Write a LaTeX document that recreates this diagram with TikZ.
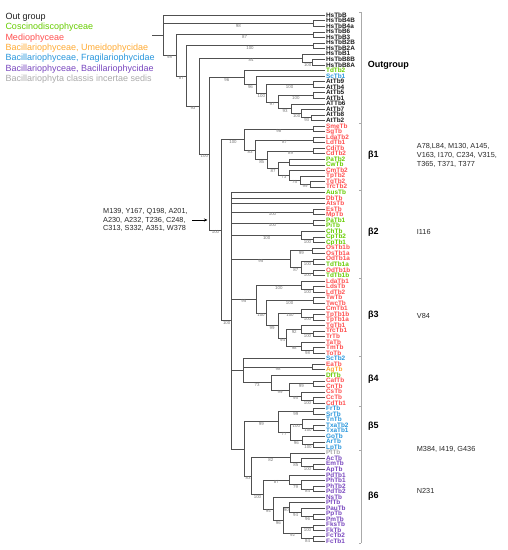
\documentclass[tikz,border=0pt]{standalone}
\usepackage{fontspec}
\setmainfont{Liberation Sans}
\usetikzlibrary{calc,arrows.meta}
\definecolor{cK}{RGB}{30,30,30}
\definecolor{cG}{RGB}{102,204,0}
\definecolor{cR}{RGB}{255,80,80}
\definecolor{cO}{RGB}{255,170,51}
\definecolor{cB}{RGB}{40,150,220}
\definecolor{cP}{RGB}{120,70,190}
\definecolor{cY}{RGB}{170,170,170}
\definecolor{treec}{RGB}{80,80,80}
\definecolor{supc}{RGB}{120,120,120}
\definecolor{annc}{RGB}{40,40,40}
\newcommand\nd[4]{\path let \p1=($(#3)!0.5!(#4)$) in coordinate (#1) at (#2pt,\y1);}
\newcommand\br[3]{\draw[branch] (#1) |- (#2);\if\relax\detokenize{#3}\relax\else\node[sup] at ($(#1|-#2)!0.5!(#2)$) {#3};\fi}
\newcommand\pr[3]{\draw[branch] (#1) |- (#2);\draw[branch] (#1) |- (#3);}
\begin{document}
\begin{tikzpicture}[x=1pt,y=-1pt,
  branch/.style={draw=treec,line width=0.75pt},
  sup/.style={anchor=north,inner sep=0.4pt,text=supc,font=\fontsize{4.4}{5}\selectfont},
  leaf/.style={anchor=west,inner xsep=0.9pt,inner ysep=0pt,text height=4.4pt,text depth=0.6pt,font=\fontsize{6.4}{7}\selectfont\bfseries},
  leg/.style={anchor=west,inner sep=0pt,font=\fontsize{9}{10}\selectfont},
  grp/.style={anchor=west,inner sep=0pt,font=\fontsize{9}{10}\selectfont\bfseries},
  ann/.style={anchor=west,inner sep=0pt,align=left,text=annc,font=\fontsize{7.3}{8.8}\selectfont},
  arr/.style={-{Stealth[length=3.5pt,width=3pt]},line width=0.8pt,draw=black}]
\useasboundingbox (0,0) rectangle (508,550);
% legend
\node[leg,text=cK] (lg1) at (5.3,17) {Out group};
\node[leg,text=cG] (lg2) at (5.3,27.4) {Coscinodiscophyceae};
\node[leg,text=cR] (lg3) at (5.3,37.8) {Mediophyceae};
\node[leg,text=cO] (lg4) at (5.3,48.2) {Bacillariophyceae, Umeidophycidae};
\node[leg,text=cB] (lg5) at (5.3,58.6) {Bacillariophyceae, Fragilariophycidae};
\node[leg,text=cP] (lg6) at (5.3,69) {Bacillariophyceae, Bacillariophycidae};
\node[leg,text=cY] (lg7) at (5.3,79.4) {Bacillariophyta classis incertae sedis};
% leaves
\foreach \i/\t/\c in {1/HsTbB/cK,2/HsTbB4B/cK,3/HsTbB4a/cK,4/HsTbB6/cK,5/HsTbB3/cK,6/HsTbB2B/cK,7/HsTbB2A/cK,8/HsTbB1/cK,9/HsTbB8B/cK,10/HsTbB8A/cK,
11/TdTb2/cG,12/ScTb1/cB,13/AtTb9/cK,14/AtTb4/cK,15/AtTb5/cK,16/AtTb1/cK,17/ATTb6/cK,18/AtTb7/cK,19/AtTb8/cK,20/AtTb2/cK,
21/SmeTb/cR,22/SgTb/cR,23/LdaTb2/cR,24/LdTb1/cR,25/CdiTb/cR,26/CdTb2/cR,27/PaTb2/cG,28/CwTb/cG,29/CmTb2/cR,30/TpTb2/cR,
31/TgTb2/cR,32/TrcTb2/cR,33/AusTb/cG,34/DbTb/cR,35/AtsTb/cR,36/EsTb/cR,37/MpTb/cR,38/PaTb1/cG,39/PiTb/cG,40/ChTb/cG,
41/CpTb2/cG,42/CpTb1/cG,43/OsTb1b/cR,44/OsTb1a/cR,45/OdTb1a/cR,46/TdTb1a/cG,47/OdTb1b/cR,48/TdTb1b/cG,49/LdaTb1/cR,50/LdsTb/cR,
51/LdTb2/cR,52/TwTb/cR,53/TwcTb/cR,54/CmTb1/cR,55/TpTb1b/cR,56/TpTb1a/cR,57/TgTb1/cR,58/TrcTb1/cR,59/TrTb/cR,60/TaTb/cR,
61/TmTb/cR,62/ToTb/cR,63/ScTb2/cB,64/EaTb/cR,65/AgTb/cO,66/DfTb/cG,67/CafTb/cR,68/CnTb/cR,69/CsTb/cR,70/CcTb/cR,
71/CdTb1/cR,72/FrTb/cB,73/SrTb/cB,74/TnTb/cB,75/TxaTb2/cB,76/TxaTb1/cB,77/GoTb/cB,78/ArTb/cB,79/LpTb/cB,80/PtTb/cY,
81/AcTb/cP,82/EmTb/cP,83/ApTb/cP,84/PdTb1/cP,85/PhTb1/cP,86/PhTb2/cP,87/PdTb2/cP,88/NsTb/cP,89/PfTb/cP,90/PauTb/cP,
91/PpTb/cP,92/PmTb/cP,93/FksTb/cP,94/FkTb/cP,95/FcTb2/cP,96/FcTb1/cP}{
  \coordinate (t\i) at (325,{15.3+(\i-1)*5.54});
  \node[leaf,text=\c] (L\i) at (t\i) {\t};
}
% internal nodes: outgroup
\nd{p2}{313.3}{t2}{t3}
\nd{p4}{313.3}{t4}{t5}
\nd{p6}{313.3}{t6}{t7}
\nd{p9}{312.7}{t9}{t10}
\nd{n8}{302.7}{t8}{p9}
\nd{p13}{313.3}{t13}{t14}
\nd{p15}{313.3}{t15}{t16}
\nd{p19}{311.7}{t19}{t20}
\nd{n18}{301.7}{t18}{p19}
\nd{n17}{291.7}{t17}{n18}
\nd{n278}{278.3}{p15}{n17}
\nd{n266}{266}{p13}{n278}
\nd{n256}{256.7}{t12}{n266}
\nd{N244}{244.3}{t11}{n256}
% beta1
\nd{p21}{313.3}{t21}{t22}
\nd{p23}{313.3}{t23}{t24}
\nd{p25}{313.3}{t25}{t26}
\nd{p27}{289.3}{t27}{t28}
\nd{p31}{310}{t31}{t32}
\nd{n300}{300}{t30}{p31}
\nd{n289b}{289.3}{t29}{n300}
\nd{n278b}{278.3}{p27}{n289b}
\nd{n267}{267.7}{p25}{n278b}
\nd{n255}{255.7}{p23}{n267}
\nd{B1}{244.3}{p21}{n255}
% beta2
\nd{p36}{313.3}{t36}{t37}
\nd{p38}{313.3}{t38}{t39}
\nd{p41}{313.3}{t41}{t42}
\nd{n40}{301.7}{t40}{p41}
\nd{p43}{312.7}{t43}{t44}
\nd{p45}{313.3}{t45}{t46}
\nd{p47}{313.3}{t47}{t48}
\nd{n301o}{301.7}{p45}{p47}
\nd{n290o}{290}{p43}{n301o}
% beta3
\nd{p50}{313.3}{t50}{t51}
\nd{n49}{301.7}{t49}{p50}
\nd{p52}{313.3}{t52}{t53}
\nd{p55}{313.3}{t55}{t56}
\nd{n54}{301.7}{t54}{p55}
\nd{p58}{313.3}{t58}{t59}
\nd{n57}{301.7}{t57}{p58}
\nd{p61}{313.3}{t61}{t62}
\nd{n60}{301.7}{t60}{p61}
\nd{n286}{286.7}{n57}{n60}
\nd{n278c}{278.3}{n54}{n286}
\nd{n266c}{266}{p52}{n278c}
\nd{B3}{256}{n49}{n266c}
% beta4
\nd{p64}{312.7}{t64}{t65}
\nd{p67}{313.3}{t67}{t68}
\nd{p70}{313.3}{t70}{t71}
\nd{n69}{301.7}{t69}{p70}
\nd{n289d}{289.3}{p67}{n69}
\nd{n271}{271}{t66}{n289d}
\nd{B4}{243.3}{t63}{n271}
% beta5
\nd{p72}{313.3}{t72}{t73}
\nd{p75}{313.3}{t75}{t76}
\nd{n74}{302.7}{t74}{p75}
\nd{p78}{313.3}{t78}{t79}
\nd{n77}{302.7}{t77}{p78}
\nd{n290e}{290}{n74}{n77}
\nd{B5}{278.3}{p72}{n290e}
% beta6
\nd{p82}{313.3}{t82}{t83}
\nd{n81}{301.7}{t81}{p82}
\nd{n290f}{290}{t80}{n81}
\nd{p86}{313.3}{t86}{t87}
\nd{n85}{301.7}{t85}{p86}
\nd{n289f}{289.3}{t84}{n85}
\nd{p91}{313.3}{t91}{t92}
\nd{n90}{301.7}{t90}{p91}
\nd{n289g}{289.3}{t89}{n90}
\nd{p93}{313.3}{t93}{t94}
\nd{p95}{313.3}{t95}{t96}
\nd{n301g}{301.7}{p93}{p95}
\nd{n283}{283.3}{n289g}{n301g}
\nd{n273}{273.3}{t88}{n283}
\nd{n263}{263.3}{n289f}{n273}
\nd{B6}{251.7}{n290f}{n263}
\nd{N56}{244.3}{B5}{B6}
\nd{Nrest}{231.7}{t33}{N56}
\nd{Ndia}{221.7}{B1}{Nrest}
\nd{N209}{209.3}{N244}{Ndia}
\nd{N199}{199.3}{n8}{N209}
\nd{N187}{186.7}{p6}{N199}
\nd{N176}{176}{p4}{N187}
\nd{R}{163.3}{t1}{N176}
\path let \p1=(R) in coordinate (R0) at (152pt,\y1);
% branches
\draw[branch] (R0) -- (R);
\br{R}{t1}{}\br{R}{p2}{98}\br{R}{N176}{98}
\pr{p2}{t2}{t3}
\br{N176}{p4}{87}\br{N176}{N187}{87}
\pr{p4}{t4}{t5}
\br{N187}{p6}{100}\br{N187}{N199}{93}
\pr{p6}{t6}{t7}
\br{N199}{n8}{84}\br{N199}{N209}{100}
\br{n8}{t8}{}\br{n8}{p9}{100}
\pr{p9}{t9}{t10}
\br{N209}{N244}{96}\br{N209}{Ndia}{100}
\br{N244}{t11}{}\br{N244}{n256}{96}
\br{n256}{t12}{}\br{n256}{n266}{100}
\br{n266}{p13}{100}\br{n266}{n278}{97}
\pr{p13}{t13}{t14}
\br{n278}{p15}{100}\br{n278}{n17}{93}
\pr{p15}{t15}{t16}
\br{n17}{t17}{}\br{n17}{n18}{100}
\br{n18}{t18}{}\br{n18}{p19}{93}
\pr{p19}{t19}{t20}
% beta1
\br{Ndia}{B1}{100}\br{Ndia}{Nrest}{100}
\br{B1}{p21}{98}\br{B1}{n255}{83}
\pr{p21}{t21}{t22}
\br{n255}{p23}{87}\br{n255}{n267}{85}
\pr{p23}{t23}{t24}
\br{n267}{p25}{89}\br{n267}{n278b}{87}
\pr{p25}{t25}{t26}
\br{n278b}{p27}{}\br{n278b}{n289b}{73}
\pr{p27}{t27}{t28}
\br{n289b}{t29}{}\br{n289b}{n300}{75}
\br{n300}{t30}{}\br{n300}{p31}{99}
\pr{p31}{t31}{t32}
% rest
\br{Nrest}{t33}{}\br{Nrest}{t34}{}\br{Nrest}{t35}{}
\br{Nrest}{p36}{100}\br{Nrest}{p38}{100}\br{Nrest}{n40}{100}
\br{Nrest}{n290o}{95}\br{Nrest}{B3}{95}\br{Nrest}{B4}{}\br{Nrest}{N56}{}
\pr{p36}{t36}{t37}\pr{p38}{t38}{t39}
\br{n40}{t40}{}\br{n40}{p41}{100}
\pr{p41}{t41}{t42}
\br{n290o}{p43}{99}\br{n290o}{n301o}{87}
\pr{p43}{t43}{t44}
\br{n301o}{p45}{100}\br{n301o}{p47}{100}
\pr{p45}{t45}{t46}\pr{p47}{t47}{t48}
% beta3
\br{B3}{n49}{100}\br{B3}{n266c}{100}
\br{n49}{t49}{}\br{n49}{p50}{100}
\pr{p50}{t50}{t51}
\br{n266c}{p52}{100}\br{n266c}{n278c}{99}
\pr{p52}{t52}{t53}
\br{n278c}{n54}{100}\br{n278c}{n286}{94}
\br{n54}{t54}{}\br{n54}{p55}{100}
\pr{p55}{t55}{t56}
\br{n286}{n57}{92}\br{n286}{n60}{98}
\br{n57}{t57}{}\br{n57}{p58}{100}
\pr{p58}{t58}{t59}
\br{n60}{t60}{}\br{n60}{p61}{98}
\pr{p61}{t61}{t62}
% beta4
\br{B4}{t63}{}\br{B4}{p64}{98}\br{B4}{n271}{73}
\pr{p64}{t64}{t65}
\br{n271}{t66}{}\br{n271}{n289d}{99}
\br{n289d}{p67}{99}\br{n289d}{n69}{95}
\pr{p67}{t67}{t68}
\br{n69}{t69}{}\br{n69}{p70}{100}
\pr{p70}{t70}{t71}
% beta5
\br{N56}{B5}{99}\br{N56}{B6}{83}
\br{B5}{p72}{99}\br{B5}{n290e}{77}
\pr{p72}{t72}{t73}
\br{n290e}{n74}{100}\br{n290e}{n77}{96}
\br{n74}{t74}{}\br{n74}{p75}{100}
\pr{p75}{t75}{t76}
\br{n77}{t77}{}\br{n77}{p78}{100}
\pr{p78}{t78}{t79}
% beta6
\br{B6}{n290f}{82}\br{B6}{n263}{100}
\br{n290f}{t80}{}\br{n290f}{n81}{85}
\br{n81}{t81}{}\br{n81}{p82}{100}
\pr{p82}{t82}{t83}
\br{n263}{n289f}{87}\br{n263}{n273}{94}
\br{n289f}{t84}{}\br{n289f}{n85}{79}
\br{n85}{t85}{}\br{n85}{p86}{84}
\pr{p86}{t86}{t87}
\br{n273}{t88}{}\br{n273}{n283}{96}
\br{n283}{n289g}{90}\br{n283}{n301g}{92}
\br{n289g}{t89}{}\br{n289g}{n90}{94}
\br{n90}{t90}{}\br{n90}{p91}{96}
\pr{p91}{t91}{t92}
\br{n301g}{p93}{100}\br{n301g}{p95}{84}
\pr{p93}{t93}{t94}\pr{p95}{t95}{t96}
% bracket
\coordinate (bt) at (361,12);
\coordinate (bb) at (361,543);
\draw[draw=cY,line width=0.7pt] (bt) -- (bb);
\foreach \yy in {12,123.4,189.9,278.6,356,406,450.4,543}{
  \draw[draw=cY,line width=0.7pt] (361,\yy) -- (358.5,\yy);}
% group labels
\node[grp] (g0) at (367.7,65.7) {Outgroup};
\node[grp] (g1) at (368,155.5) {β1};
\node[grp] (g2) at (368,232) {β2};
\node[grp] (g3) at (368,315.5) {β3};
\node[grp] (g4) at (368,379) {β4};
\node[grp] (g5) at (368,425.7) {β5};
\node[grp] (g6) at (368,495.7) {β6};
% annotations
\node[ann] (a1) at (416.7,155.3) {A78,L84, M130, A145,\\V163, I170, C234, V315,\\T365, T371, T377};
\node[ann] (a2) at (416.7,231.7) {I116};
\node[ann] (a3) at (416.7,315.7) {V84};
\node[ann] (a4) at (416.7,449.3) {M384, I419, G436};
\node[ann] (a5) at (416.7,491) {N231};
\node[ann] (a0) at (103,220) {M139, Y167, Q198, A201,\\A230, A232, T236, C248,\\C313, S332, A351, W378};
\coordinate (arrtip) at (207.5,220);
\draw[arr] ([xshift=4.5pt]a0.east) -- (arrtip);
\end{tikzpicture}
\end{document}
